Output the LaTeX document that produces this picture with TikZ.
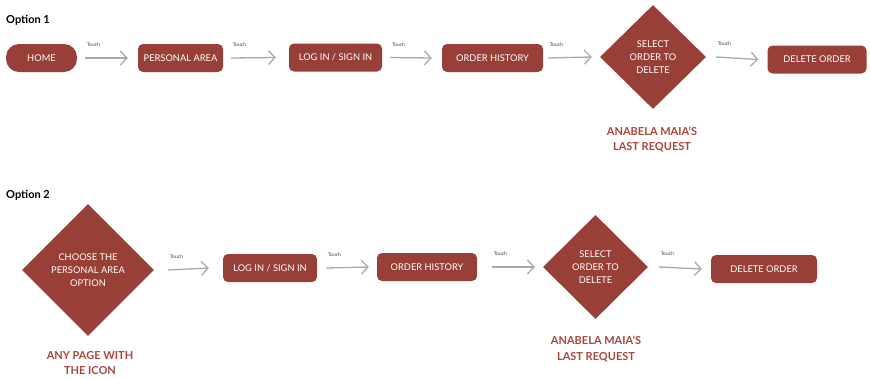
\documentclass[tikz,border=0pt]{standalone}
\usepackage{fontspec}
\setmainfont{Lato}
\usetikzlibrary{shapes.geometric,arrows.meta}
\definecolor{boxred}{HTML}{983F37}
\definecolor{labred}{HTML}{A6463D}
\definecolor{arrgray}{HTML}{A9A9A9}
\tikzset{
  box/.style={fill=boxred, text=white, rounded corners=5pt, minimum height=28pt, inner sep=0pt,
    font=\fontsize{9.3}{11}\selectfont},
  pill/.style={box, rounded corners=13pt},
  dia/.style={diamond, fill=boxred, inner sep=0pt, aspect=1},
  diatext/.style={text=white, align=center, font=\fontsize{9.3}{13}\selectfont},
  arr/.style={draw=arrgray, line width=1.3pt, -{Straight Barb[length=6.5pt,width=14pt,line width=1.3pt]}},
  touch/.style={anchor=west, yshift=13pt, xshift=1pt, inner sep=0pt, text=black!75, font=\fontsize{5}{6}\selectfont},
  redlab/.style={text=labred, align=center, font=\bfseries\fontsize{11}{15.5}\selectfont},
  opt/.style={anchor=west, inner sep=0pt, font=\bfseries\fontsize{11}{13}\selectfont}
}
\begin{document}
\begin{tikzpicture}[x=1pt,y=-1pt]
\useasboundingbox (0,0) rectangle (870,378);
% Option 1
\node[opt] (o1) at (6,20) {Option 1};
\node[pill, minimum width=71pt] (h1) at (41.5,58) {HOME};
\node[box, minimum width=85pt] (p1) at (180.5,58) {PERSONAL AREA};
\node[box, minimum width=93pt] (l1) at (335.5,57.5) {LOG IN / SIGN IN};
\node[box, minimum width=101pt] (r1) at (492.5,58) {ORDER HISTORY};
\node[dia, minimum width=106pt, minimum height=104pt] (s1) at (653,57) {};
\node[diatext] (s1t) at (s1.center) {SELECT\\ORDER TO\\DELETE};
\node[box, minimum width=99pt] (d1) at (817,59.5) {DELETE ORDER};
\node[redlab] (a1) at (652,139.5) {ANABELA MAIA’S\\LAST REQUEST};
\draw[arr] ([xshift=8pt]h1.east) -- ([xshift=-10pt]p1.west) node[touch,pos=0] (t1) {Touch};
\draw[arr] ([xshift=8pt]p1.east) -- ([xshift=-13pt]l1.west) node[touch,pos=0] (t2) {Touch};
\draw[arr] ([xshift=8pt]l1.east) -- ([xshift=-10pt]r1.west) node[touch,pos=0] (t3) {Touch};
\draw[arr] ([xshift=5pt]r1.east) -- ([xshift=-8pt]s1.west) node[touch,pos=0] (t4) {Touch};
\draw[arr] ([xshift=10pt]s1.east) -- ([xshift=-9pt]d1.west) node[touch,pos=0] (t5) {Touch};
% Option 2
\node[opt] (o2) at (6,195) {Option 2};
\node[dia, minimum width=132pt, minimum height=132pt] (c2) at (88,270) {};
\node[diatext] (c2t) at (c2.center) {CHOOSE THE\\PERSONAL AREA\\OPTION};
\node[redlab] (a2) at (90,363) {ANY PAGE WITH\\THE ICON};
\node[box, minimum width=94pt] (l2) at (270,268) {LOG IN / SIGN IN};
\node[box, minimum width=100pt] (r2) at (427,267) {ORDER HISTORY};
\node[dia, minimum width=105pt, minimum height=104pt] (s2) at (595.5,267) {};
\node[diatext] (s2t) at (s2.center) {SELECT\\ORDER TO\\DELETE};
\node[box, minimum width=106pt] (d2) at (764,269) {DELETE ORDER};
\node[redlab] (a3) at (596,349) {ANABELA MAIA’S\\LAST REQUEST};
\draw[arr] ([xshift=14pt]c2.east) -- ([xshift=-14pt]l2.west) node[touch,pos=0] (t6) {Touch};
\draw[arr] ([xshift=9pt]l2.east) -- ([xshift=-8pt]r2.west) node[touch,pos=0] (t7) {Touch};
\draw[arr] ([xshift=15pt]r2.east) -- ([xshift=-8pt]s2.west) node[touch,pos=0] (t8) {Touch};
\draw[arr] ([xshift=11pt]s2.east) -- ([xshift=-9pt]d2.west) node[touch,pos=0] (t9) {Touch};
\end{tikzpicture}
\end{document}
